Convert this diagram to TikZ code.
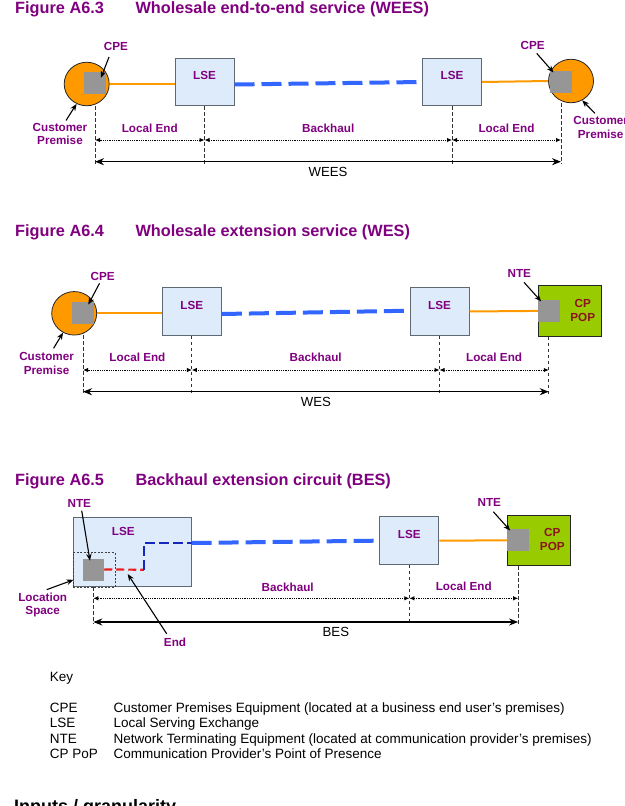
\documentclass[tikz,border=0pt]{standalone}
\usepackage{fontspec}
\setmainfont{Liberation Sans}
\usepackage{xcolor}
\definecolor{wspurple}{RGB}{128,0,128}
\definecolor{wsorange}{RGB}{255,153,0}
\definecolor{wsgrey}{RGB}{150,150,150}
\definecolor{wsblue}{RGB}{51,102,255}
\definecolor{wsdeepblue}{RGB}{20,40,190}
\definecolor{wsred}{RGB}{235,30,30}
\definecolor{wsgreen}{RGB}{153,204,0}
\definecolor{wsmaroon}{RGB}{140,20,30}
\definecolor{wsice}{RGB}{221,235,250}
\definecolor{wsedge}{RGB}{95,105,115}
\usepackage{tikz}
\usetikzlibrary{arrows.meta,shapes.geometric}
\tikzset{
  figtitle/.style={font=\fontsize{16.3}{19}\selectfont\bfseries,text=wspurple,
                   inner sep=0pt,anchor=base west},
  lbl/.style     ={font=\fontsize{11.7}{13.4}\selectfont\bfseries,text=wspurple,
                   align=center,inner sep=1pt},
  poptext/.style ={font=\fontsize{11.7}{14.4}\selectfont\bfseries,text=wsmaroon,
                   align=center,inner sep=0pt},
  sumlbl/.style  ={font=\fontsize{13.2}{15}\selectfont,inner sep=1pt},
  keytext/.style ={font=\fontsize{13.5}{15.5}\selectfont,inner sep=0pt,anchor=base west},
  hall/.style    ={rectangle,draw=wsedge,fill=wsice,line width=1pt,inner sep=0pt},
  lse/.style     ={hall,minimum width=59pt,minimum height=47.5pt,
                   label={[lbl,yshift=6.3pt]center:LSE}},
  prem/.style    ={ellipse,draw=black!85,fill=wsorange,line width=0.8pt,
                   minimum width=45pt,minimum height=43.5pt,inner sep=0pt},
  kit/.style     ={rectangle,fill=wsgrey,minimum width=21.5pt,minimum height=22pt,inner sep=0pt},
  pop/.style     ={rectangle,draw=black!85,fill=wsgreen,line width=1pt,
                   minimum width=63pt,minimum height=50.5pt,inner sep=0pt},
  spacebox/.style={rectangle,draw=black!75,line width=0.6pt,dash pattern=on 2pt off 1.5pt,
                   minimum width=41.7pt,minimum height=34.4pt,inner sep=0pt},
  access/.style  ={draw=wsorange,line width=2pt},
  trunk/.style   ={draw=wsblue,line width=4pt,dash pattern=on 20pt off 7pt},
  tailred/.style ={draw=wsred,line width=2.2pt,dash pattern=on 8pt off 4pt},
  tailblue/.style={draw=wsdeepblue,line width=2.2pt,dash pattern=on 10pt off 4pt},
  pointer/.style ={-{Stealth[length=7pt,width=5.5pt]},line width=1.1pt},
  guide/.style   ={line width=0.8pt,dash pattern=on 3.5pt off 2.5pt,black!80},
  span/.style    ={{Latex[length=5pt,width=4.5pt]}-{Latex[length=5pt,width=4.5pt]},
                   line width=0.9pt,dash pattern=on 1pt off 0.8pt},
  total/.style   ={{Stealth[length=9pt,width=7pt]}-{Stealth[length=9pt,width=7pt]},line width=1.5pt},
}

\begin{document}
\begin{tikzpicture}[x=1pt,y=-1pt]
  \useasboundingbox (0,0) rectangle (624,806);
  \fill[white] (0,0) rectangle (624,806);

  % Figure A6.3 -- WEES
  \node[figtitle] (numA) at (15,13.3) {Figure A6.3};
  \node[figtitle] (capA) at (135.3,13.3) {Wholesale end-to-end service (WEES)};
  \node[prem] (premA) at (86.7,84) {};
  \node[kit] (cpeA) at (95,83) {};
  \node[lse] (lseA) at (204.5,82) {};
  \node[lse] (lseB) at (452,82) {};
  \node[prem] (premB) at (571,81) {};
  \node[kit] (cpeB) at (561,82) {};
  \draw[access] (premA.east) -- (premA.east -| lseA.west);
  \draw[trunk] ([yshift=-2.5pt]lseA.east) -- (lseB.west);
  \draw[access] (lseB.east) -- (premB.west);
  \node[lbl] (cpeAl) at (116,46.7) {CPE};
  \node[lbl] (cpeBl) at (532.7,45) {CPE};
  \node[lbl] (custAl) at (60,134) {Customer\\Premise};
  \node[lbl] (custBl) at (600.7,127.4) {Customer\\Premise};
  \draw[pointer] ([xshift=-7pt,yshift=-5pt]cpeAl.south) -- ([xshift=-5pt,yshift=-6pt]cpeA.north east);
  \draw[pointer] ([xshift=4pt,yshift=-3pt]cpeBl.south) -- ([xshift=3.5pt,yshift=-1.7pt]cpeB.north west);
  \draw[pointer] ([xshift=6pt,yshift=1.5pt]custAl.north) -- (premA.243);
  \draw[pointer] ([xshift=-5.7pt,yshift=2pt]custBl.north) -- (premB.300);
  \coordinate (dimA) at (0,140);
  \coordinate (totA) at (0,161.7);
  \coordinate (endA) at (0,163.5);
  \draw[guide] (cpeA |- premA.south) -- (cpeA |- endA);
  \draw[guide] (lseA.south) -- (lseA |- endA);
  \draw[guide] (lseB.south) -- (lseB |- endA);
  \draw[guide] (cpeB |- premB.south) -- (cpeB |- endA);
  \draw[span] (cpeA |- dimA) -- node[lbl,yshift=11.7pt] (leA) {Local End} (lseA |- dimA);
  \draw[span] (lseA |- dimA) -- node[lbl,yshift=11.7pt] (bhA) {Backhaul} (lseB |- dimA);
  \draw[span] (lseB |- dimA) -- node[lbl,yshift=11.7pt] (leB) {Local End} (cpeB |- dimA);
  \draw[total] (cpeA |- totA) -- node[sumlbl,yshift=-10pt] (wees) {WEES} (cpeB |- totA);

  % Figure A6.4 -- WES
  \node[figtitle] (numB) at (15,236) {Figure A6.4};
  \node[figtitle] (capB) at (135.3,236) {Wholesale extension service (WES)};
  \node[prem] (premC) at (74.2,313.3) {};
  \node[kit] (cpeC) at (83,312.5) {};
  \node[lse] (lseC) at (191.85,311.5) {};
  \node[lse] (lseD) at (439.5,311.5) {};
  \node[pop] (popA) at (569.8,310.9) {};
  \node[kit,anchor=west] (nteA) at (popA.west) {};
  \node[poptext] (popAt) at (582.7,310.5) {CP\\POP};
  \draw[access] (premC.east) -- (premC.east -| lseC.west);
  \draw[trunk] ([yshift=-2.5pt]lseC.east) -- ([yshift=0.8pt]lseD.west);
  \draw[access] (lseD.east) -- (nteA.west);
  \node[lbl] (cpeCl) at (102.7,276) {CPE};
  \node[lbl] (custCl) at (46.6,363.3) {Customer\\Premise};
  \node[lbl] (nteAl) at (519.3,273.3) {NTE};
  \draw[pointer] ([xshift=-3.2pt,yshift=-2pt]cpeCl.south) -- ([xshift=-5.7pt,yshift=-3.3pt]cpeC.north east);
  \draw[pointer] ([xshift=7pt,yshift=3pt]custCl.north) -- (premC.240);
  \draw[pointer] ([xshift=4.7pt,yshift=-3.8pt]nteAl.south) -- ([xshift=3.4pt,yshift=-1.7pt]nteA.north west);
  \coordinate (dimB) at (0,370);
  \coordinate (totB) at (0,391.7);
  \coordinate (endB) at (0,393.5);
  \draw[guide] (cpeC |- premC.south) -- (cpeC |- endB);
  \draw[guide] (lseC.south) -- (lseC |- endB);
  \draw[guide] (lseD.south) -- (lseD |- endB);
  \draw[guide] (nteA |- popA.south) -- (nteA |- endB);
  \draw[span] (cpeC |- dimB) -- node[lbl,yshift=13pt] (leC) {Local End} (lseC |- dimB);
  \draw[span] (lseC |- dimB) -- node[lbl,yshift=13pt] (bhB) {Backhaul} (lseD |- dimB);
  \draw[span] (lseD |- dimB) -- node[lbl,yshift=13pt] (leD) {Local End} (nteA |- dimB);
  \draw[total] (cpeC |- totB) -- node[sumlbl,yshift=-10pt] (wes) {WES} (nteA |- totB);

  % Figure A6.5 -- BES
  \node[figtitle] (numC) at (15,485) {Figure A6.5};
  \node[figtitle] (capC) at (135.3,485) {Backhaul extension circuit (BES)};
  \node[hall,minimum width=117.7pt,minimum height=69.4pt] (lseE) at (132.2,552) {};
  \node[lbl] (lseEt) at (123.3,531) {LSE};
  \node[spacebox,anchor=south west] (locE) at (lseE.south west) {};
  \node[kit] (nteB) at (93.3,569.5) {};
  \coordinate (bendE) at (144,569.7);
  \node[lse] (lseF) at (409.35,540.65) {};
  \node[pop] (popB) at (539.2,540.35) {};
  \node[kit,anchor=west] (nteC) at (popB.west) {};
  \node[poptext] (popBt) at (552.3,539.7) {CP\\POP};
  \draw[tailred] (nteB.east) -- (bendE);
  \draw[tailblue] (bendE) |- ([yshift=9pt]lseE.east);
  \draw[trunk] ([yshift=9pt]lseE.east) -- (lseF.west);
  \draw[access] (lseF.east) -- (nteC.west);
  \node[lbl] (nteBl) at (79.3,503.3) {NTE};
  \node[lbl] (locEl) at (42.7,605) {Location\\Space};
  \node[lbl] (endEl) at (175,642.3) {End};
  \node[lbl] (nteCl) at (489.3,502.7) {NTE};
  \draw[pointer] ([xshift=2.4pt,yshift=-2.2pt]nteBl.south) -- ([xshift=-3.3pt,yshift=-2.4pt]nteB.north);
  \draw[pointer] ([xshift=4pt,yshift=2pt]locEl.north) -- ([xshift=0.7pt,yshift=7.4pt]locE.south west);
  \draw[pointer] ([xshift=-8.3pt,yshift=3pt]endEl.north) -- ([xshift=-16.3pt,yshift=-4.3pt]bendE);
  \draw[pointer] ([xshift=4pt,yshift=-3.8pt]nteCl.south) -- ([xshift=3pt,yshift=-1.4pt]nteC.north west);
  \coordinate (dimC) at (0,598.3);
  \coordinate (totC) at (0,622);
  \coordinate (endC) at (0,623.5);
  \draw[guide] (nteB |- lseE.south) -- (nteB |- endC);
  \draw[guide] (lseF.south) -- (lseF |- endC);
  \draw[guide] (nteC |- popB.south) -- (nteC |- endC);
  \draw[span] (nteB |- dimC) -- node[lbl,pos=0.615,yshift=10.6pt] (bhC) {Backhaul} (lseF |- dimC);
  \draw[span] (lseF |- dimC) -- node[lbl,yshift=12.3pt] (leE) {Local End} (nteC |- dimC);
  \draw[total] (nteB |- totC) -- node[sumlbl,pos=0.571,yshift=-10.3pt] (bes) {BES} (nteC |- totC);

  % key
  \node[keytext] (keyhead) at (49.7,681.5) {Key};
  \node[keytext] (keylist) at (49.7,712.2) {\begin{tabular}[t]{@{}p{63.7pt}@{}l@{}}
    CPE & Customer Premises Equipment (located at a business end user's premises)\\
    LSE & Local Serving Exchange\\
    NTE & Network Terminating Equipment (located at communication provider's premises)\\
    CP PoP & Communication Provider's Point of Presence
  \end{tabular}};
  \node[keytext,font=\fontsize{18}{21}\selectfont\bfseries] (inputs) at (14,812) {Inputs / granularity};
\end{tikzpicture}
\end{document}
